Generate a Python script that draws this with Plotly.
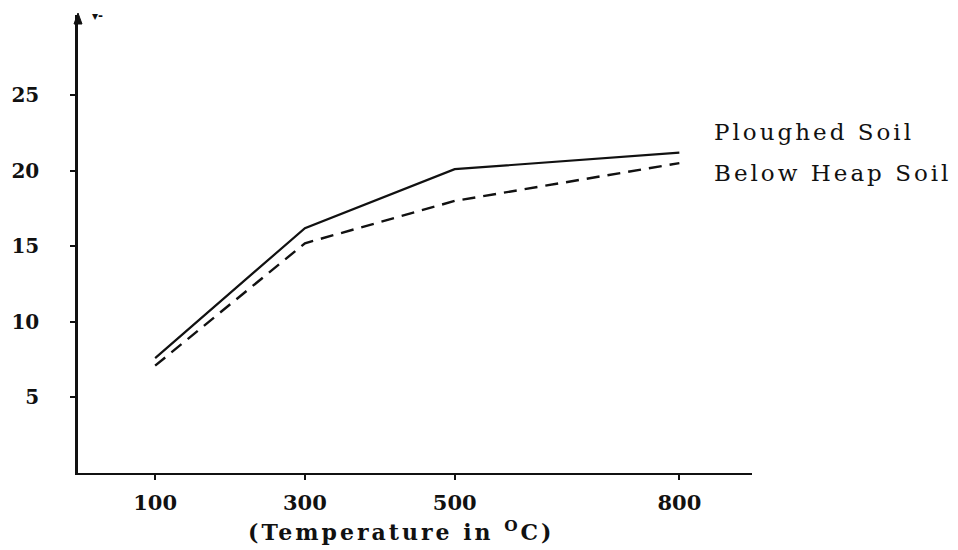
import plotly.graph_objects as go

temperature = [100, 300, 500, 800]
ploughed_soil = [7.6, 16.2, 20.1, 21.2]
below_heap_soil = [7.1, 15.2, 18.0, 20.5]
x_ticks = [100, 300, 500, 800]
y_ticks = [5, 10, 15, 20, 25]

FONT = "DejaVu Serif"
INK = "#111111"

fig = go.Figure()
fig.add_trace(go.Scatter(
    x=temperature, y=ploughed_soil, mode="lines", name="Ploughed Soil",
    line=dict(color=INK, width=2.2), showlegend=False))
fig.add_trace(go.Scatter(
    x=temperature, y=below_heap_soil, mode="lines", name="Below Heap Soil",
    line=dict(color=INK, width=2.4, dash="13px,8px"), showlegend=False))

# page body has an 8px margin; lay the figure out in window pixels
OFF = 8
W, H = 958 - OFF, 550 - OFF
ML, MT = 78 - OFF, 15 - OFF
PW, PH = 752 - 78, 473 - 15
MR, MB = W - ML - PW, H - MT - PH

def px(x):
    return (x - OFF - ML) / PW

def py(y):
    return (MT + PH - (y - OFF)) / PH

fig.update_layout(
    width=W, height=H,
    margin=dict(l=ML, r=MR, t=MT, b=MB, autoexpand=False),
    paper_bgcolor="white", plot_bgcolor="white",
    font=dict(family=FONT, color=INK),
    xaxis=dict(range=[-3, 897], tickvals=x_ticks, showgrid=False, zeroline=False,
               automargin=False,
               showline=True, linecolor=INK, linewidth=2, ticks="outside",
               ticklen=5, tickwidth=2, tickcolor=INK, ticklabelstandoff=5,
               tickfont=dict(family=FONT, size=21, color=INK, weight="bold")),
    yaxis=dict(range=[0, 30.3], tickvals=y_ticks, showgrid=False, zeroline=False,
               automargin=False,
               showline=True, linecolor=INK, linewidth=2.5, ticks="outside",
               ticklen=5, tickwidth=2, tickcolor=INK, ticklabelstandoff=27,
               tickfont=dict(family=FONT, size=20, color=INK, weight="bold")),
)

SP = '<span style="letter-spacing:3px">'
annotations = [
    dict(text=SP + "(Temperature in <sup>O</sup>C)</span>", x=px(401), y=py(531),
         xref="paper", yref="paper", xanchor="center", yanchor="middle", showarrow=False,
         font=dict(family=FONT, size=22, color=INK, weight="bold")),
    dict(text=SP + "Ploughed Soil</span>", x=px(712), y=py(132), xref="paper", yref="paper",
         xanchor="left", yanchor="middle", showarrow=False,
         font=dict(family=FONT, size=23, color=INK)),
    dict(text=SP + "Below Heap Soil</span>", x=px(712), y=py(173), xref="paper", yref="paper",
         xanchor="left", yanchor="middle", showarrow=False,
         font=dict(family=FONT, size=23, color=INK)),
    dict(text="▾‐", x=px(97), y=py(16), xref="paper", yref="paper",
         xanchor="center", yanchor="middle", showarrow=False,
         font=dict(family=FONT, size=12, color=INK, weight="bold")),
]
fig.update_layout(annotations=annotations)

# arrowhead at the top of the y axis
fig.add_shape(type="path", xref="paper", yref="paper",
              path=f"M {px(74)} {py(24)} L {px(78)} {py(13)} L {px(82)} {py(24)} Z",
              fillcolor=INK, line=dict(color=INK, width=1))

fig.write_html("out.html")
